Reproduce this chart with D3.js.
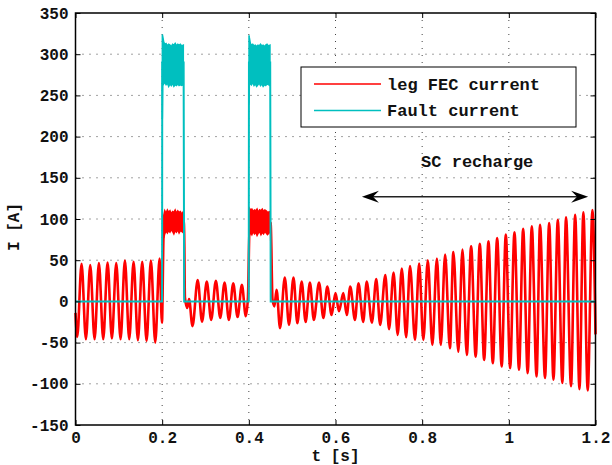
<!DOCTYPE html>
<html><head><meta charset="utf-8">
<script src="https://cdn.jsdelivr.net/npm/d3@7"></script>
<style>
html,body{margin:0;padding:0;background:#fff;}
svg text{font-family:"Liberation Mono","Courier New",monospace;font-weight:bold;fill:#111;}
</style></head>
<body><svg id="c" width="612" height="465"></svg>
<script>
// ---- data ----
const xTicks = [0, 0.2, 0.4, 0.6, 0.8, 1, 1.2];
const yTicks = [-150, -100, -50, 0, 50, 100, 150, 200, 250, 300, 350];
const seriesNames = ["leg FEC current", "Fault current"];

// leg FEC current: extremes and transitions of the waveform (t [s], I [A])
const fecT = [0, .004, .014, .024, .034, .044, .054, .064, .074, .084, .094, .104, .114, .124, .134, .144, .154, .164, .174, .184, .194, .1995, .2035,
  .2255, .2475, .2505, .2525, .258, .262, .270, .282, .292, .303, .313, .324, .334, .344, .354, .364, .374, .384, .393, .398, .4015,
  .425, .4485, .4505, .4545, .459,
  .464, .472, .483, .4927, .503, .512, .522, .531, .541, .550, .562, .572, .581, .591, .600, .608, .618, .626, .634, .645, .653, .664,
  .672, .684, .694, .703, .715, .7235, .734, .7435, .753, .763, .772, .7835, .793, .8027, .813, .8235, .834, .843, .853, .864, .872, .8835,
  .893, .903, .913, .9235, .933, .943, .953, .963, .973, .9835, .993, 1.003, 1.013, 1.0235, 1.033, 1.0435, 1.053, 1.064, 1.072, 1.0835,
  1.093, 1.103, 1.113, 1.1235, 1.132, 1.1435, 1.153, 1.163, 1.172, 1.182, 1.193, 1.2];
const fecI = [-14, -43, 45.5, -46, 44, -46, 46.4, -46, 47, -45, 46.4, -46, 49.5, -46, 48, -47, 48, -48, 49.5, -50, 52, -26, 82,
  95, 96, 95, 5, -8, 3, -30, 26, -24.5, 24, -22.5, 25, -20, 23, -22.5, 22, -19, 20, -18, 5, 85,
  95, 96, 95, 3, -6,
  14, -32.5, 29, -28.5, 29, -26.5, 24, -25, 23, -22.5, 23, -20, 18, -16.4, 10, -12, 10, -16.4, 18, -22.5, 22, -25,
  24, -25.7, 27, -28.5, 32, -33.8, 35, -40.7, 40, -43.5, 43, -46.7, 46, -46.7, 50, -52.8, 52, -52.8, 57, -56.8, 60, -61,
  63, -65, 67, -67, 70, -71, 73, -75, 77, -79, 81, -81, 84, -83, 88, -87, 91, -91, 93, -93,
  95, -95, 99, -99, 102, -103, 105, -106.5, 108, -108, 111, -40];

// leg FEC current during the two faults: noisy band (low / high envelopes)
const fecBandT1 = [.2035, .206, .209, .212, .215, .218, .221, .224, .227, .23, .233, .236, .239, .242, .245, .2475];
const fecHi1 = [104, 110, 107, 111, 108, 110, 106, 109, 108, 111, 107, 110, 108, 109, 106, 108];
const fecLo1 = [77, 82, 86, 83, 86, 84, 87, 85, 82, 86, 84, 87, 83, 86, 85, 84];
const fecBandT2 = [.4015, .404, .407, .41, .413, .416, .419, .422, .425, .428, .431, .434, .437, .44, .443, .4485];
const fecHi2 = [113, 111, 112, 109, 111, 110, 112, 108, 111, 110, 112, 109, 111, 110, 108, 109];
const fecLo2 = [80, 84, 81, 85, 82, 84, 80, 83, 85, 81, 84, 82, 85, 83, 81, 84];

// Fault current: zero outside faults
const faultT = [0, .1998, .2002, .2495, .2508, .3998, .4003, .4493, .4505, 1.2];
const faultI = [0, 0, 290, 290, 0, 0, 290, 290, 0, 0];
const faultBandT1 = [.2004, .2012, .2035, .206, .209, .212, .215, .218, .221, .224, .227, .23, .233, .236, .239, .242, .245, .2488];
const faultHi1 = [324, 322, 315, 312, 313, 310, 312, 311, 309, 312, 311, 313, 310, 312, 311, 312, 310, 311];
const faultLo1 = [222, 262, 264, 266, 263, 265, 261, 264, 262, 265, 261, 263, 262, 264, 262, 263, 262, 263];
const faultBandT2 = [.4004, .4012, .4035, .406, .409, .412, .415, .418, .421, .424, .427, .43, .433, .436, .439, .442, .445, .4488];
const faultHi2 = [323, 320, 313, 311, 312, 310, 311, 309, 311, 310, 312, 310, 311, 309, 311, 312, 310, 311];
const faultLo2 = [240, 262, 265, 263, 266, 262, 264, 261, 263, 265, 262, 264, 261, 263, 262, 264, 263, 262];

// annotation
const arrowT = [0.661, 1.183];
const arrowI = 127;
const annotText = "SC recharge";
const annotT = 0.927, annotI = 170;

// ---- drawing ----
const svg = d3.select("#c");
const L = 75.5, R = 595.5, T = 13, B = 425;
const x = d3.scaleLinear().domain([0, 1.2]).range([L, R]);
const y = d3.scaleLinear().domain([-150, 350]).range([B, T]);
const red = "#ff0000", cyan = "#00bfbf";

// grid
const g = svg.append("g");
g.selectAll(".gx").data(xTicks.slice(1, -1)).join("line")
  .attr("x1", d => x(d)).attr("x2", d => x(d)).attr("y1", T).attr("y2", B)
  .attr("stroke", "#444").attr("stroke-width", 1).attr("stroke-dasharray", "1,6");
g.selectAll(".gy").data(yTicks.slice(1, -1)).join("line")
  .attr("y1", d => y(d)).attr("y2", d => y(d)).attr("x1", L).attr("x2", R)
  .attr("stroke", "#444").attr("stroke-width", 1).attr("stroke-dasharray", "1,6");

const plot = svg.append("g");
// red line
const fecData = fecT.map((t, i) => [t, fecI[i]]);
plot.append("path").datum(fecData)
  .attr("d", d3.line().x(d => x(d[0])).y(d => y(d[1])).curve(d3.curveMonotoneX))
  .attr("fill", "none").attr("stroke", red).attr("stroke-width", 2.6).attr("stroke-linejoin", "round");
const area = d3.area().x(d => x(d[0])).y0(d => y(d[1])).y1(d => y(d[2]));
[[fecBandT1, fecLo1, fecHi1], [fecBandT2, fecLo2, fecHi2]].forEach(([tt, lo, hi]) => {
  plot.append("path").datum(tt.map((t, i) => [t, lo[i], hi[i]]))
    .attr("d", area).attr("fill", red).attr("stroke", red).attr("stroke-width", 1.5);
});
// cyan
const faultData = faultT.map((t, i) => [t, faultI[i]]);
plot.append("path").datum(faultData)
  .attr("d", d3.line().x(d => x(d[0])).y(d => y(d[1])))
  .attr("fill", "none").attr("stroke", cyan).attr("stroke-width", 2);
[[faultBandT1, faultLo1, faultHi1], [faultBandT2, faultLo2, faultHi2]].forEach(([tt, lo, hi]) => {
  plot.append("path").datum(tt.map((t, i) => [t, lo[i], hi[i]]))
    .attr("d", area).attr("fill", cyan).attr("stroke", cyan).attr("stroke-width", 1.5);
});

// axes
const fx = d => String(+d.toFixed(1));
const ax = svg.append("g").attr("transform", `translate(0,${B})`)
  .call(d3.axisBottom(x).tickValues(xTicks).tickFormat(fx).tickSizeInner(-5).tickSizeOuter(0).tickPadding(6.5));
const ay = svg.append("g").attr("transform", `translate(${L},0)`)
  .call(d3.axisLeft(y).tickValues(yTicks).tickFormat(d => String(d)).tickSizeInner(-5).tickSizeOuter(0).tickPadding(7));
const at = svg.append("g").attr("transform", `translate(0,${T})`)
  .call(d3.axisTop(x).tickValues(xTicks).tickFormat("").tickSizeInner(-5).tickSizeOuter(0));
const ar = svg.append("g").attr("transform", `translate(${R},0)`)
  .call(d3.axisRight(y).tickValues(yTicks).tickFormat("").tickSizeInner(-5).tickSizeOuter(0));
[ax, ay, at, ar].forEach(a => {
  a.select(".domain").remove();
  a.selectAll(".tick line").attr("stroke", "#000").attr("stroke-width", 1);
  a.selectAll("text").attr("font-size", 16).attr("fill", "#111")
    .style("font-family", '"Liberation Mono", monospace').style("font-weight", "bold");
});
svg.append("rect").attr("x", L).attr("y", T).attr("width", R - L).attr("height", B - T)
  .attr("fill", "none").attr("stroke", "#000").attr("stroke-width", 1.5);

// axis labels
svg.append("text").attr("x", (L + R) / 2).attr("y", 461).attr("text-anchor", "middle")
  .attr("font-size", 16).text("t [s]");
svg.append("text").attr("transform", `translate(19,${(T + B) / 2 + 8}) rotate(-90)`).attr("text-anchor", "middle")
  .attr("font-size", 16).text("I [A]");

// legend
const lg = svg.append("g");
lg.append("rect").attr("x", 301).attr("y", 67).attr("width", 275).attr("height", 60)
  .attr("fill", "#fff").attr("stroke", "#000").attr("stroke-width", 1);
[red, cyan].forEach((c, i) => {
  const yy = 84 + i * 26.5;
  lg.append("line").attr("x1", 314).attr("x2", 381).attr("y1", yy).attr("y2", yy)
    .attr("stroke", c).attr("stroke-width", 1.5);
  lg.append("text").attr("x", 387).attr("y", yy).attr("dy", "0.35em")
    .attr("font-size", 17).text(seriesNames[i]);
});

// annotation
svg.append("text").attr("x", x(annotT)).attr("y", y(annotI)).attr("dy", "0.35em")
  .attr("text-anchor", "middle").attr("font-size", 17).text(annotText);
const ay0 = y(arrowI), ax0 = x(arrowT[0]), ax1 = x(arrowT[1]);
svg.append("line").attr("x1", ax0 + 8).attr("x2", ax1 - 8).attr("y1", ay0).attr("y2", ay0)
  .attr("stroke", "#222").attr("stroke-width", 1.3);
const head = (tipX, dir) => {
  const Lh = 17, w = 6;
  return `M${tipX},${ay0} L${tipX - dir * Lh},${ay0 - w} L${tipX - dir * Lh * 0.65},${ay0} L${tipX - dir * Lh},${ay0 + w} Z`;
};
svg.append("path").attr("d", head(ax0, -1)).attr("fill", "#000");
svg.append("path").attr("d", head(ax1, 1)).attr("fill", "#000");
</script></body></html>
